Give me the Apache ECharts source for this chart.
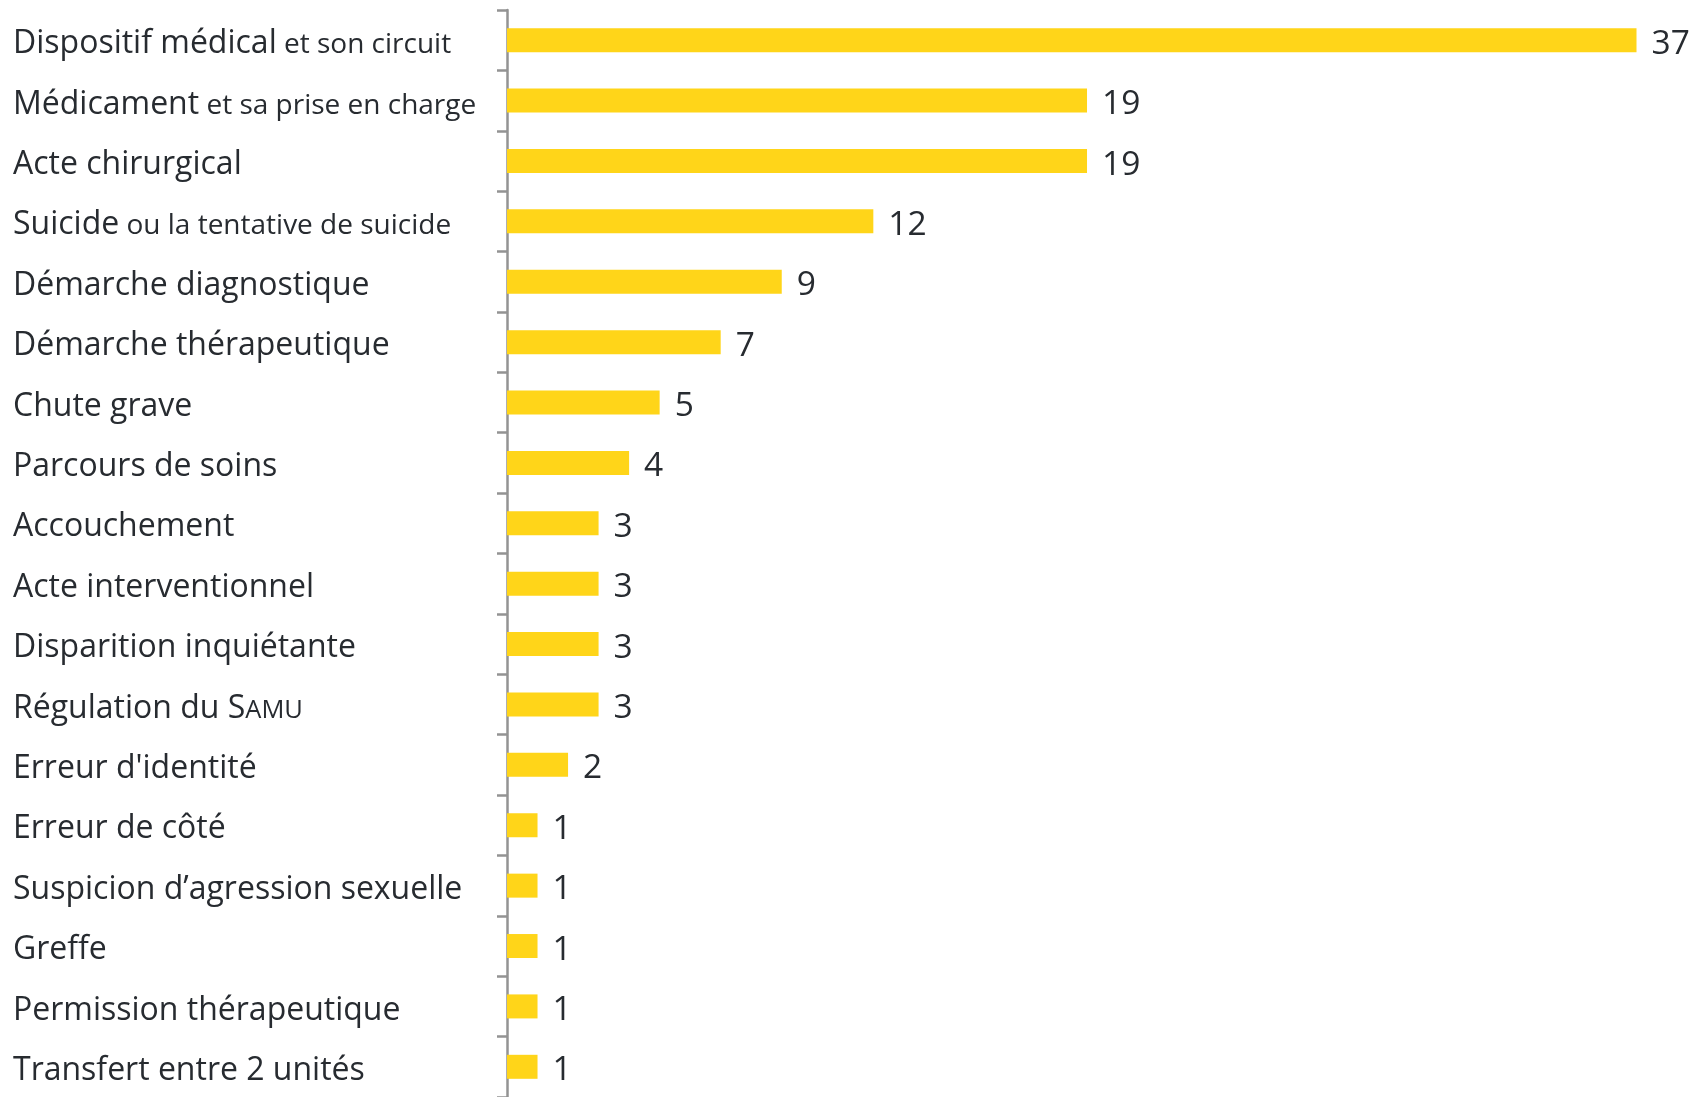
<!DOCTYPE html>
<html>
<head>
<meta charset="utf-8">
<script src="https://cdn.jsdelivr.net/npm/echarts@6/dist/echarts.min.js"></script>
<style>
html,body{margin:0;padding:0;background:#fff;}
#chart{width:1708px;height:1097px;}
</style>
</head>
<body>
<div id="chart"></div>
<script>
// Category label: main (large) part and smaller trailing part
const categoryMain = [
  "Dispositif médical", "Médicament", "Acte chirurgical", "Suicide",
  "Démarche diagnostique", "Démarche thérapeutique", "Chute grave",
  "Parcours de soins", "Accouchement", "Acte interventionnel",
  "Disparition inquiétante", "Régulation du S", "Erreur d'identité",
  "Erreur de côté", "Suspicion d’agression sexuelle", "Greffe",
  "Permission thérapeutique", "Transfert entre 2 unités"
];
const categorySub = [
  " et son circuit", " et sa prise en charge", "", " ou la tentative de suicide",
  "", "", "", "", "", "", "", "AMU", "", "", "", "", "", ""
];
const values = [37, 19, 19, 12, 9, 7, 5, 4, 3, 3, 3, 3, 2, 1, 1, 1, 1, 1];

const categories = categoryMain.map((m, i) => m + categorySub[i]);

const chart = echarts.init(document.getElementById('chart'), null, {renderer: 'canvas'});
const FONT = '"Open Sans"';
const TXT = '#272b30';

chart.setOption({
  animation: false,
  grid: {left: 507, top: 10, height: 1090, width: 1129.5, containLabel: false},
  xAxis: {
    type: 'value', min: 0, max: 37,
    show: false
  },
  yAxis: {
    type: 'category',
    inverse: true,
    data: categories,
    axisLine: {show: true, lineStyle: {color: '#939393', width: 2.5}},
    axisTick: {show: true, length: 10, lineStyle: {color: '#939393', width: 2.5}},
    splitLine: {show: false},
    axisLabel: {
      align: 'left',
      margin: 494,
      padding: [2, 0, 0, 0],
      formatter: function (v, i) {
        const m = categoryMain[i], s = categorySub[i];
        if (!s) return '{a|' + m + '}';
        if (s === 'AMU') return '{a|' + m + '}{c|' + s + '}';
        return '{a|' + m + '}{b|' + s + '}';
      },
      rich: {
        a: {fontFamily: FONT, fontSize: 32, color: TXT, verticalAlign: 'bottom', lineHeight: 38},
        b: {fontFamily: FONT, fontSize: 28, color: TXT, verticalAlign: 'bottom', lineHeight: 33, padding: [0,0,1,0]},
        c: {fontFamily: FONT, fontSize: 25.5, color: TXT, verticalAlign: 'bottom', lineHeight: 31, padding: [0,0,1,0]}
      }
    }
  },
  series: [{
    type: 'bar',
    data: values,
    barWidth: 24,
    itemStyle: {color: '#FFD519'},
    label: {
      show: true, position: 'right', distance: 15,
      fontFamily: FONT, fontSize: 33.5, color: TXT,
      offset: [0, 4]
    }
  }]
});
</script>
</body>
</html>
